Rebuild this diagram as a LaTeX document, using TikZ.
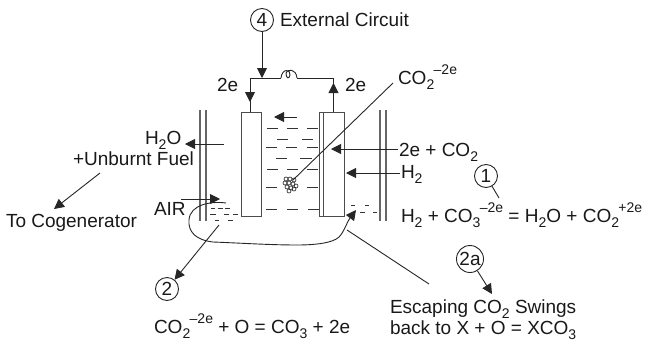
\documentclass[tikz,border=0pt]{standalone}
\usepackage{fontspec}
\setmainfont{Liberation Sans}
\usetikzlibrary{arrows.meta}
\newcommand{\lo}[1]{\raisebox{-0.28em}{\fontsize{14}{15}\selectfont #1}}
\newcommand{\hi}[1]{\raisebox{0.5em}{\fontsize{14}{15}\selectfont\kern-0.6pt #1}}
\tikzset{
  lbl/.style={inner sep=0pt,outer sep=0pt,anchor=base west,text=black!90,font=\fontsize{19}{22}\selectfont},
  num/.style={circle,draw=black!85,line width=0.9pt,inner sep=0pt,minimum size=23pt,text=black!90,font=\fontsize{19}{22}\selectfont},
  wire/.style={draw=black!85,line width=0.9pt},
  arr/.style={wire,-{Triangle[length=10pt,width=10pt]}},
  wall/.style={draw=black!60,line width=1.3pt},
  plate/.style={draw=black!70,line width=1pt},
  dsh/.style={draw=black!80,line width=0.9pt}
}
\begin{document}
\begin{tikzpicture}[x=1pt,y=-1pt]
\useasboundingbox (0,0) rectangle (646,341);
% walls
\draw[wall] (200,110) -- (200,221); \draw[wall] (206,110) -- (206,221);
\draw[wall] (380,110) -- (380,221); \draw[wall] (386,110) -- (386,221);
% electrodes
\node[plate,minimum width=20.5pt,minimum height=103.5pt,inner sep=0pt,anchor=north west] (anode) at (240.5,112.3) {};
\node[plate,minimum width=24.7pt,minimum height=103.5pt,inner sep=0pt,anchor=north west] (cathode) at (319.3,112.3) {};
\draw[plate] (323.3,112.3) -- (323.3,215.8);
% electrolyte dashes
\foreach \y/\a/\b in {128/267/278,128/287/298,128/307/318,139/277/288,139/302/313,147/266/277,147/286/297,147/307/318,158/276/287,158/300/312,169/267/278,169/287/298,169/307/318,187/266/277,187/307/318,209/266/277,209/287/298,209/308/319,
  208/211/215,208/218/223,208/225/230,214/210/216,214/224/229,214/233/238,220/215/219,220/228/233,
  205/351/355,205/365/369,212/360/365,212/373/377}
  \draw[dsh] (\a,\y) -- (\b,\y);
% texts and markers
\node[num] (n4) at (262,20) {4};
\node[lbl] (t4) at (280,26) {External Circuit};
\node[lbl] (e1) at (217,91) {2e};
\node[lbl] (e2) at (345,91) {2e};
\node[lbl] (co2m) at (398,84) {CO\lo{2}\hi{–2e}};
\node[lbl] (ec) at (399,156) {2e + CO\lo{2}};
\node[lbl] (h2) at (401,178) {H\lo{2}};
\node[lbl] (eq1) at (401,222) {H\lo{2} + CO\lo{3}\hi{–2e} = H\lo{2}O + CO\lo{2}\hi{+2e}};
\node[lbl] (h2o) at (145,144) {H\lo{2}O};
\node[lbl] (fuel) at (73,165) {+Unburnt Fuel};
\node[lbl] (air) at (154,215) {AIR};
\node[lbl] (cog) at (6,227) {To Cogenerator};
\node[lbl] (eq2) at (154,333) {CO\lo{2}\hi{–2e} + O = CO\lo{3} + 2e};
\node[lbl] (esc) at (390,313) {Escaping CO\lo{2} Swings};
\node[lbl] (back) at (390,334) {back to X + O = XCO\lo{3}};
\node[num] (n1) at (486,176) {1};
\node[num] (n2) at (167,289) {2};
\node[num,minimum size=27pt] (n2a) at (470,259) {2a};
% named connector ends
\coordinate (j) at (262,78);
\coordinate (wl) at (250,78);
\coordinate (wr) at (333.5,78);
\coordinate (cl) at (281,78);
\coordinate (cr) at (297,78);
\coordinate (at) at (250,112.3);
\coordinate (ct) at (333.5,112.3);
\coordinate (a1s) at (297,117); \coordinate (a1e) at (274,117);
\coordinate (a2s) at (224,144); \coordinate (a2e) at (185,144);
\coordinate (a3s) at (398,149); \coordinate (a3e) at (331,149);
\coordinate (a4s) at (400,173); \coordinate (a4e) at (346,173);
\coordinate (a5s) at (181,199); \coordinate (a5e) at (220,199);
\coordinate (a6s) at (100,173); \coordinate (a6e) at (54,209);
\coordinate (a7s) at (219,225);
\coordinate (a8e) at (492,294);
\coordinate (l1e) at (499,198);
\coordinate (blob) at (293,180);
\coordinate (co2s) at (393,83);
\coordinate (lps) at (347,230); \coordinate (lpe) at (429,284);
% circuit
\draw[arr] (n4) -- (j);
\draw[wire] (wl) -- (cl);
\draw[wire] (cl) .. controls (282,68) and (291,69) .. (290,75) .. controls (289,80) and (286,78) .. (286,73) .. controls (287,69) and (296,68) .. (cr);
\draw[wire] (cr) -- (wr);
\draw[wire] (wl) -- (at);
\draw[wire] (wr) -- (ct);
\draw[arr] (wl) -- (250,102);
\draw[arr] (ct) -- (333.5,83);
% arrows
\draw[arr] (a1s) -- (a1e);
\draw[arr] (a2s) -- (a2e);
\draw[arr] (a3s) -- (a3e);
\draw[arr] (a4s) -- (a4e);
\draw[arr] (a5s) -- (a5e);
\draw[arr] (a6s) -- (a6e);
\draw[arr] (a7s) -- (n2);
\draw[arr] (n2a) -- (a8e);
\draw[wire] (n1) -- (l1e);
\draw[wire] (co2s) -- (blob);
\draw[wire] (lps) -- (lpe);
% loop
\draw[wire,-{Triangle[length=10pt,width=10pt]}] (226,203) .. controls (212,201) and (190,204) .. (189,220) .. controls (188,232) and (196,240) .. (213,242) .. controls (240,243) and (270,245) .. (297,245) .. controls (315,245) and (333,243) .. (339,237) .. controls (344,232) and (347,222) .. (356,210);
% bubbles
\foreach \dx/\dy in {-4/-5,0/-5,4/-4,-5/-1,-1/-1,3/0,6/2,-3/3,1/4,-1/7,4/5}
  \draw[draw=black!90,line width=0.6pt] (290+\dx,184+\dy) circle (2pt);
\end{tikzpicture}
\end{document}
